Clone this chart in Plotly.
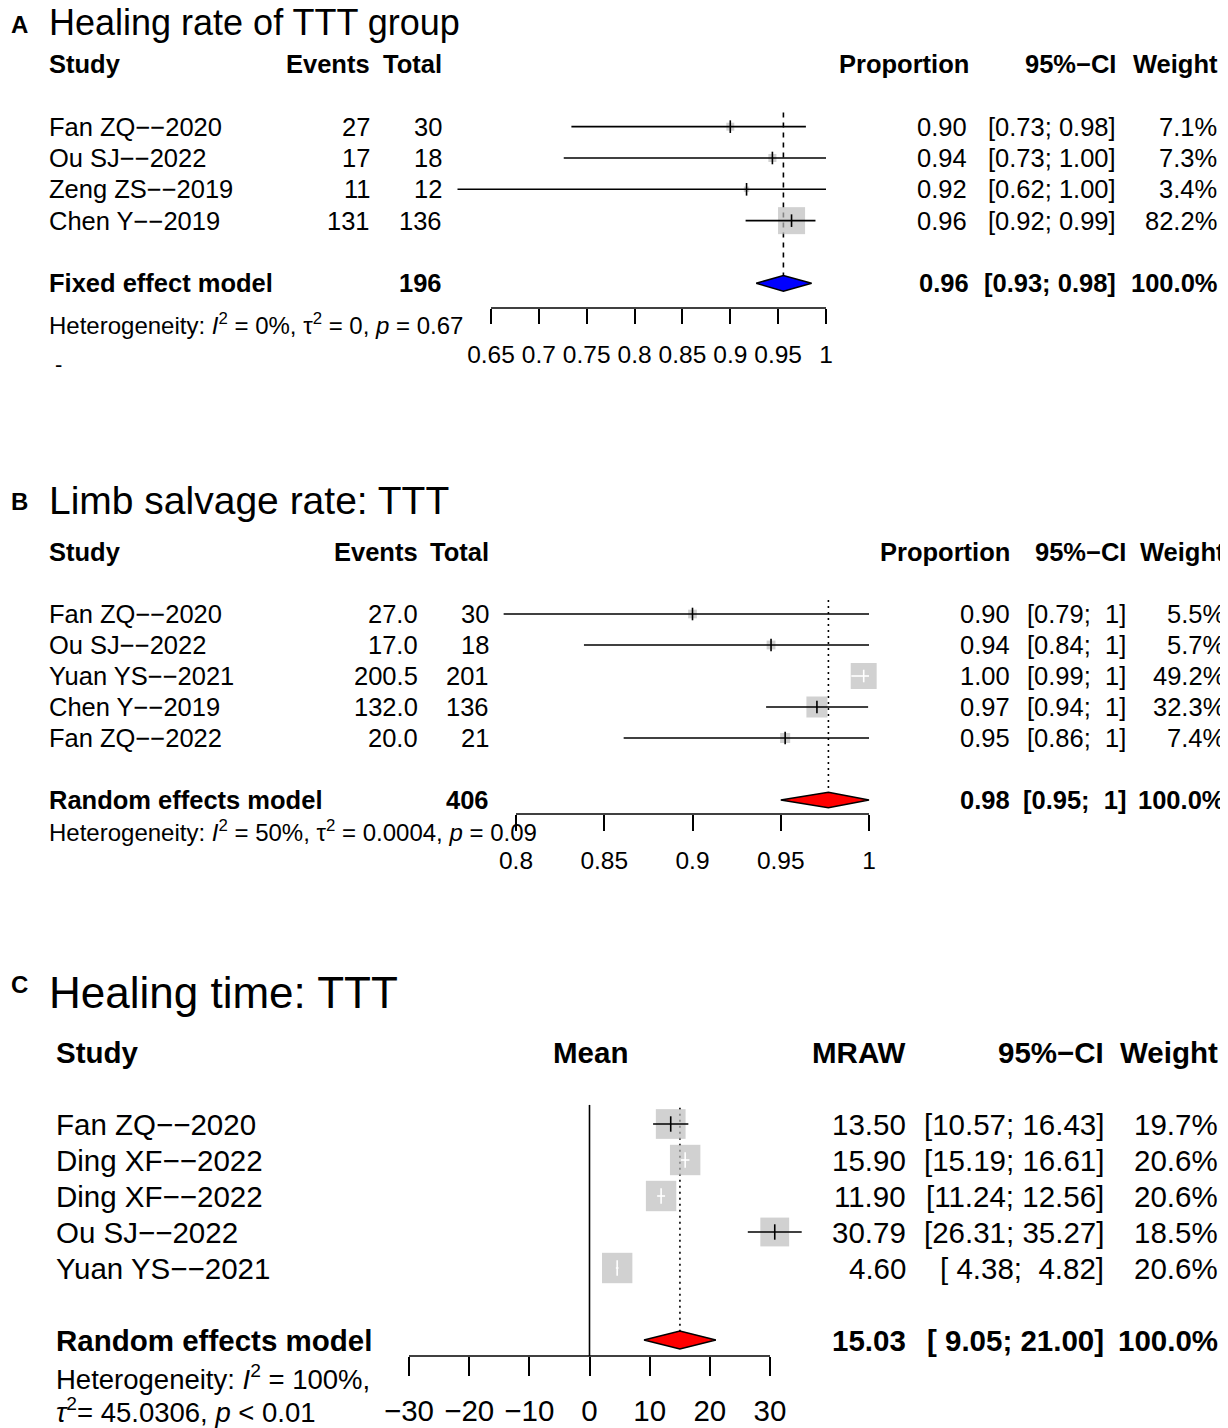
import numpy as np
import plotly.graph_objects as go

W, H = 1228, 1428
PAD = 8  # page body margin around the figure
FONT = "Liberation Sans"
GRAY = "#BEBEBE"
MINUS = "\u2212"
NB = "\u00a0"

# ---------- A: healing rate of TTT group (fixed effect) ----------
a_study = ["Fan ZQ--2020", "Ou SJ--2022", "Zeng ZS--2019", "Chen Y--2019"]
a_events = [27, 17, 11, 131]
a_total = [30, 18, 12, 136]
a_prop = [0.900, 0.944, 0.917, 0.964]
a_lo = [0.734, 0.726, 0.615, 0.916]
a_hi = [0.979, 1.000, 1.000, 0.989]
a_weight = [7.1, 7.3, 3.4, 82.2]
a_prop_txt = ["0.90", "0.94", "0.92", "0.96"]
a_ci_txt = ["[0.73; 0.98]", "[0.73; 1.00]", "[0.62; 1.00]", "[0.92; 0.99]"]
a_pool = [0.9555, 0.927, 0.985]          # estimate, lower, upper
a_pool_txt = ["196", "0.96", "[0.93; 0.98]", "100.0%"]
a_ticks = [0.65, 0.7, 0.75, 0.8, 0.85, 0.9, 0.95, 1.0]
a_ticktext = ["0.65", "0.7", "0.75", "0.8", "0.85", "0.9", "0.95", "1"]

# ---------- B: limb salvage rate (random effects) ----------
b_study = ["Fan ZQ--2020", "Ou SJ--2022", "Yuan YS--2021", "Chen Y--2019", "Fan ZQ--2022"]
b_events = [27.0, 17.0, 200.5, 132.0, 20.0]
b_total = [30, 18, 201, 136, 21]
b_prop = [0.900, 0.9445, 0.997, 0.9705, 0.9525]
b_lo = [0.793, 0.8385, 0.990, 0.9417, 0.861]
b_hi = [1.000, 1.000, 1.000, 0.9995, 1.000]
b_weight = [5.5, 5.7, 49.2, 32.3, 7.4]
b_prop_txt = ["0.90", "0.94", "1.00", "0.97", "0.95"]
b_lo_txt = ["0.79", "0.84", "0.99", "0.94", "0.86"]
b_pool = [0.977, 0.950, 1.000]
b_pool_txt = ["406", "0.98", "0.95", "100.0%"]
b_ticks = [0.8, 0.85, 0.9, 0.95, 1.0]
b_ticktext = ["0.8", "0.85", "0.9", "0.95", "1"]

# ---------- C: healing time (random effects) ----------
c_study = ["Fan ZQ--2020", "Ding XF--2022", "Ding XF--2022", "Ou SJ--2022", "Yuan YS--2021"]
c_mean = [13.50, 15.90, 11.90, 30.79, 4.60]
c_lo = [10.57, 15.19, 11.24, 26.31, 4.38]
c_hi = [16.43, 16.61, 12.56, 35.27, 4.82]
c_weight = [19.7, 20.6, 20.6, 18.5, 20.6]
c_pool = [15.03, 9.05, 21.00]
c_ticks = [-30, -20, -10, 0, 10, 20, 30]
c_ticktext = [MINUS + "30", MINUS + "20", MINUS + "10", "0", "10", "20", "30"]


def study_name(s):
    return s.replace("-", MINUS)


def ci_fmt(lo, hi):
    return ("[%5.2f; %5.2f]" % (lo, hi)).replace(" ", NB)


def fx(px):
    return (px - PAD) / W


def fy(py):
    return 1 - (py - PAD) / H


fig = go.Figure()
ann = []


def txt(s, x, y, yref, size, anchor="left", bold=False):
    ann.append(dict(text="<b>%s</b>" % s if bold else s, x=fx(x), xref="paper",
                    y=fy(y) if yref == "paper" else y, yref=yref, xanchor=anchor, yanchor="middle",
                    showarrow=False, font=dict(size=size, color="black", family=FONT)))


def panel(n, cal, xpx, y0, unit, ypx, est, lo, hi, wt, pool, pool_col, dash,
          ticks, ticktext, axis_px, ticklen, tfont, standoff, box_k, tick_sz, zero=False):
    (v0, p0), (v1, p1) = cal
    s = (p1 - p0) / (v1 - v0)
    xa = "x" if n == 1 else "x%d" % n
    ya = "y" if n == 1 else "y%d" % n
    rows = list(range(2, 2 + len(est)))
    prow = rows[-1] + 2
    arow = (axis_px - y0) / unit

    fig.layout["xaxis" if n == 1 else "xaxis%d" % n] = dict(
        domain=[fx(xpx[0]), fx(xpx[1])],
        range=[v0 + (xpx[0] - p0) / s, v0 + (xpx[1] - p0) / s],
        anchor="free", position=fy(axis_px), automargin=False,
        showgrid=False, zeroline=False, showline=False,
        ticks="outside", ticklen=ticklen, tickwidth=1.7, tickcolor="black",
        tickvals=ticks, ticktext=ticktext, tickangle=0, ticklabelstandoff=standoff,
        tickfont=dict(size=tfont, color="black", family=FONT))
    fig.layout["yaxis" if n == 1 else "yaxis%d" % n] = dict(
        domain=[fy(ypx[1]), fy(ypx[0])], automargin=False,
        range=[(ypx[1] - y0) / unit, (ypx[0] - y0) / unit], visible=False)

    kw = dict(xaxis=xa, yaxis=ya, showlegend=False, hoverinfo="skip")
    # reference lines
    fig.add_trace(go.Scatter(x=[pool[0], pool[0]], y=[rows[0] - 0.45, prow - 0.25], mode="lines",
                             line=dict(color="black", width=1.6, dash=dash), **kw))
    if zero:
        fig.add_trace(go.Scatter(x=[0, 0], y=[rows[0] - 0.53, arow], mode="lines",
                                 line=dict(color="black", width=1.6), **kw))
    # boxes
    sizes = [box_k * np.sqrt(w) for w in wt]
    fig.add_trace(go.Scatter(x=est, y=rows, mode="markers",
                             marker=dict(symbol="square", size=sizes, color=GRAY, line=dict(width=0)), **kw))
    # CI lines and estimate ticks: white when CI lies inside its box
    for col in ["black", "white"]:
        xs, ys, ex, ey = [], [], [], []
        for e, l, h, r, sz in zip(est, lo, hi, rows, sizes):
            inside = (h - l) * s < sz
            if (col == "white") == inside:
                xs += [l, h, None]
                ys += [r, r, None]
                ex.append(e)
                ey.append(r)
        if ex:
            fig.add_trace(go.Scatter(x=xs, y=ys, mode="lines", line=dict(color=col, width=1.6), **kw))
            fig.add_trace(go.Scatter(x=ex, y=ey, mode="markers",
                                     marker=dict(symbol="line-ns", size=tick_sz,
                                                 line=dict(color=col, width=1.6)), **kw))
    # pooled diamond
    e, l, h = pool
    fig.add_trace(go.Scatter(x=[l, e, h, e, l], y=[prow, prow - 0.25, prow, prow + 0.25, prow],
                             mode="lines", fill="toself", fillcolor=pool_col,
                             line=dict(color="black", width=1.5), **kw))
    # axis line
    fig.add_trace(go.Scatter(x=[ticks[0], ticks[-1]], y=[arow, arow], mode="lines",
                             line=dict(color="black", width=1.7), **kw))
    return ya, rows, prow


# ---------------- panel A ----------------
ya, rows, prow = panel(1, [(0.65, 491), (1.0, 826)], (440, 850), 64, 31.33, (30, 420),
                       a_prop, a_lo, a_hi, a_weight, a_pool, "#0000FF", "5px,5px",
                       a_ticks, a_ticktext, 308, 15, 24.5, 10, 2.98, 9)
FS = 25.5
txt("A", 9, 25, "paper", 24, bold=True)
txt("Healing rate of TTT group", 47, 23, "paper", 36)
txt("Study", 47, 0, ya, FS, bold=True)
txt("Events", 372, 0, ya, FS, "right", True)
txt("Total", 444, 0, ya, FS, "right", True)
txt("Proportion", 971, 0, ya, FS, "right", True)
txt("95%" + MINUS + "CI", 1118, 0, ya, FS, "right", True)
txt("Weight", 1220, 0, ya, FS, "right", True)
for i, r in enumerate(rows):
    txt(study_name(a_study[i]), 47, r, ya, FS)
    txt(str(a_events[i]), 372, r, ya, FS, "right")
    txt(str(a_total[i]), 444, r, ya, FS, "right")
    txt(a_prop_txt[i], 969, r, ya, FS, "right")
    txt(a_ci_txt[i], 1118, r, ya, FS, "right")
    txt("%.1f%%" % a_weight[i], 1219, r, ya, FS, "right")
txt("Fixed effect model", 47, prow, ya, FS, bold=True)
txt(a_pool_txt[0], 444, prow, ya, FS, "right", True)
txt(a_pool_txt[1], 971, prow, ya, FS, "right", True)
txt(a_pool_txt[2], 1118, prow, ya, FS, "right", True)
txt(a_pool_txt[3], 1220, prow, ya, FS, "right", True)
txt("Heterogeneity: <i>I</i><sup>2</sup> = 0%, \u03c4<sup>2</sup> = 0, <i>p</i> = 0.67", 47, 8.3, ya, 24)
txt("-", 53, 9.6, ya, 22)

# ---------------- panel B ----------------
ya, rows, prow = panel(2, [(0.8, 516), (1.0, 869)], (490, 890), 552, 31.0, (470, 900),
                       b_prop, b_lo, b_hi, b_weight, b_pool, "#FF0000", "2px,4px",
                       b_ticks, b_ticktext, 814, 16, 24.5, 9, 3.7, 9)
txt("B", 9, 501, "paper", 24, bold=True)
txt("Limb salvage rate: TTT", 47, 500, "paper", 39)
txt("Study", 47, 0, ya, FS, bold=True)
txt("Events", 420, 0, ya, FS, "right", True)
txt("Total", 491, 0, ya, FS, "right", True)
txt("Proportion", 1012, 0, ya, FS, "right", True)
txt("95%" + MINUS + "CI", 1128, 0, ya, FS, "right", True)
txt("Weight", 1227, 0, ya, FS, "right", True)
for i, r in enumerate(rows):
    txt(study_name(b_study[i]), 47, r, ya, FS)
    txt("%.1f" % b_events[i], 420, r, ya, FS, "right")
    txt(str(b_total[i]), 491, r, ya, FS, "right")
    txt(b_prop_txt[i], 1012, r, ya, FS, "right")
    txt("[" + b_lo_txt[i] + ";" + NB * 2 + "1]", 1128, r, ya, FS, "right")
    txt("%.1f%%" % b_weight[i], 1227, r, ya, FS, "right")
txt("Random effects model", 47, prow, ya, FS, bold=True)
txt(b_pool_txt[0], 491, prow, ya, FS, "right", True)
txt(b_pool_txt[1], 1012, prow, ya, FS, "right", True)
txt("[" + b_pool_txt[2] + ";" + NB * 2 + "1]", 1128, prow, ya, FS, "right", True)
txt(b_pool_txt[3], 1227, prow, ya, FS, "right", True)
txt("Heterogeneity: <i>I</i><sup>2</sup> = 50%, \u03c4<sup>2</sup> = 0.0004, <i>p</i> = 0.09", 47, 9.0, ya, 24)

# ---------------- panel C ----------------
ya, rows, prow = panel(3, [(-30, 409), (30, 770)], (395, 830), 1052, 36.0, (950, 1428),
                       c_mean, c_lo, c_hi, c_weight, c_pool, "#FF0000", "2px,4px",
                       c_ticks, c_ticktext, 1356, 19, 29.5, 10, 6.7, 11, zero=True)
FC = 29.5
txt("C", 9, 984, "paper", 24, bold=True)
txt("Healing time: TTT", 47, 992, "paper", 44)
txt("Study", 54, 0, ya, FC, bold=True)
txt("Mean", 590, 0, ya, FC, "center", True)
txt("MRAW", 908, 0, ya, FC, "right", True)
txt("95%" + MINUS + "CI", 1106, 0, ya, FC, "right", True)
txt("Weight", 1220, 0, ya, FC, "right", True)
for i, r in enumerate(rows):
    txt(study_name(c_study[i]), 54, r, ya, FC)
    txt("%.2f" % c_mean[i], 908, r, ya, FC, "right")
    txt(ci_fmt(c_lo[i], c_hi[i]), 1106, r, ya, FC, "right")
    txt("%.1f%%" % c_weight[i], 1220, r, ya, FC, "right")
txt("Random effects model", 54, prow, ya, FC, bold=True)
txt("%.2f" % c_pool[0], 908, prow, ya, FC, "right", True)
txt(ci_fmt(c_pool[1], c_pool[2]), 1106, prow, ya, FC, "right", True)
txt("100.0%", 1220, prow, ya, FC, "right", True)
txt("Heterogeneity: <i>I</i><sup>2</sup> = 100%,", 54, 9.03, ya, 27.5)
txt("<i>\u03c4</i><sup>2</sup>= 45.0306, <i>p</i> &lt; 0.01", 54, 9.97, ya, 27.5)

fig.update_layout(template="none", width=W, height=H,
                  margin=dict(l=0, r=0, t=0, b=0, autoexpand=False),
                  paper_bgcolor="white", plot_bgcolor="rgba(0,0,0,0)",
                  font=dict(family=FONT, color="black"), annotations=ann, showlegend=False)
fig.write_html("out.html")
